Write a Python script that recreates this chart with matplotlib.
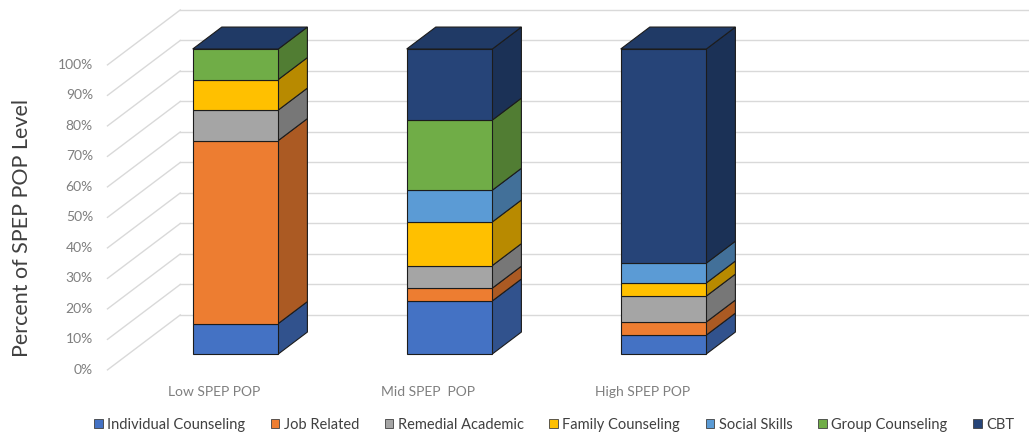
import matplotlib.pyplot as plt
from matplotlib.patches import Polygon, Patch
from matplotlib.colors import to_rgb

# Data (percent of each SPEP POP level)
categories = ['Low SPEP POP', 'Mid SPEP  POP', 'High SPEP POP']
series_names = ['Individual Counseling', 'Job Related', 'Remedial Academic',
                'Family Counseling', 'Social Skills', 'Group Counseling', 'CBT']
individual = [10, 17.4, 6.2]
job_related = [60, 4.2, 4.3]
remedial = [10, 7.4, 8.5]
family = [10, 14.3, 4.3]
social = [0, 10.4, 6.5]
group = [10, 23.0, 0]
cbt = [0, 23.3, 70.2]
series = [individual, job_related, remedial, family, social, group, cbt]
colors = ['#4472C4', '#ED7D31', '#A5A5A5', '#FFC000', '#5B9BD5', '#70AD47', '#264478']
y_ticks = [0, 10, 20, 30, 40, 50, 60, 70, 80, 90, 100]

plt.rcParams['font.family'] = ['Lato', 'DejaVu Sans']

# oblique "3D" projection settings
BAR_W = 0.40
D_BAR = 7.2      # depth of bars (in % units of vertical rise)
D_WALL = 12.8    # depth of the back wall
D_LABEL = -5.2   # depth of the label plane
SHEAR = 0.01889  # x shift per unit of depth


def shade(c, f):
    r, g, b = to_rgb(c)
    return (r * f, g * f, b * f)


def proj(x, y, d):
    return (x + SHEAR * d, y + d)


fig = plt.figure(figsize=(10.29, 4.37), dpi=100)
ax = fig.add_axes([0, 0, 1, 1])
ax.set_xlim(-1.1005, 3.708)
ax.set_ylim(-27.21, 116.07)
ax.axis('off')

grid_c = '#d9d9d9'
x_left, x_right = -0.5, 3.5
for t in y_ticks:
    # back wall gridline
    p0 = proj(x_left, t, D_WALL)
    p1 = proj(x_right, t, D_WALL)
    ax.plot([p0[0], p1[0]], [p0[1], p1[1]], color=grid_c, lw=1, zorder=1)
    # side wall gridline
    q0 = proj(x_left, t, D_LABEL)
    ax.plot([q0[0], p0[0]], [q0[1], p0[1]], color=grid_c, lw=1, zorder=1)
    # tick label
    ax.text(-0.666, t + D_LABEL, f'{t}%', ha='right', va='center',
            fontsize=10, color='#7f7f7f')

edge = '#1c1c1c'
for i, cat in enumerate(categories):
    x0 = i - BAR_W / 2
    x1 = i + BAR_W / 2
    bottom = 0
    for vals, col in zip(series, colors):
        v = vals[i]
        if v <= 0:
            continue
        top = bottom + v
        front = Polygon([(x0, bottom), (x1, bottom), (x1, top), (x0, top)],
                        closed=True, facecolor=col, edgecolor=edge, lw=0.8, zorder=3)
        side = Polygon([(x1, bottom), proj(x1, bottom, D_BAR),
                        proj(x1, top, D_BAR), (x1, top)],
                       closed=True, facecolor=shade(col, 0.72), edgecolor=edge,
                       lw=0.8, zorder=3)
        ax.add_patch(side)
        ax.add_patch(front)
        bottom = top
    top_face = Polygon([(x0, bottom), (x1, bottom), proj(x1, bottom, D_BAR),
                        proj(x0, bottom, D_BAR)],
                       closed=True, facecolor=shade(colors[-1], 0.85),
                       edgecolor=edge, lw=0.8, zorder=3)
    ax.add_patch(top_face)
    lx, ly = proj(i, -7.3, D_LABEL)
    ax.text(lx, ly, cat, ha='center', va='center', fontsize=10, color='#7f7f7f')

ax.text(-0.998, 41.3, 'Percent of SPEP POP Level', rotation=90, ha='center',
        va='center', fontsize=15.5, color='#404040')

handles = [Patch(facecolor=c, edgecolor='#404040', lw=0.6) for c in colors]
fig.legend(handles, series_names, loc='center', bbox_to_anchor=(554 / 1029, 1 - 425 / 437),
           ncol=7, frameon=False, fontsize=10.5, labelcolor='#404040',
           handlelength=0.6, handleheight=0.6, handletextpad=0.3, columnspacing=1.75)

fig.savefig('out.png', dpi=100)
